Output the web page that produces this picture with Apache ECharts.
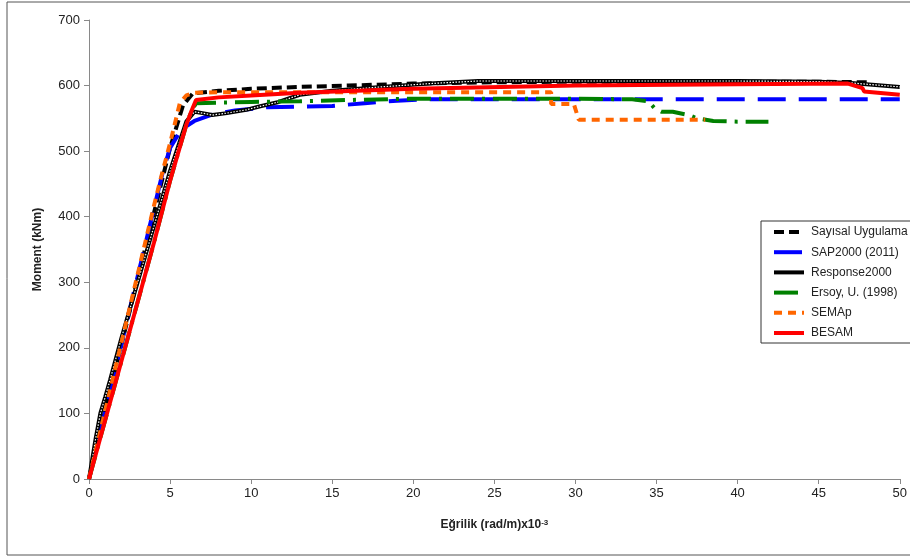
<!DOCTYPE html>
<html>
<head>
<meta charset="utf-8">
<script src="https://cdn.jsdelivr.net/npm/echarts@6/dist/echarts.min.js"></script>
<style>
  html, body { margin: 0; padding: 0; background: #fff; }
  #chart { width: 910px; height: 559px; }
</style>
</head>
<body>
<div id="chart"></div>
<script>
// values: curvature (x10^-3 rad/m) and moment (kNm)
const sayisalX = [0, 0.5, 1, 2, 3, 4, 5, 5.8, 6.4, 8, 10, 13, 16, 20, 25, 30, 35, 40, 45, 48];
const sayisalY = [0, 55, 105, 205, 305, 405, 505, 570, 588, 592, 595, 598, 600, 603, 605, 606, 606, 606, 606, 605];

const sapX = [0, 1, 2, 3, 4, 4.5, 5, 5.5, 6, 6.5, 7.5, 9, 11, 13, 15, 17, 19, 21, 30, 40, 50];
const sapY = [0, 103, 206, 309, 412, 463, 505, 525, 538, 546, 555, 562, 567, 568, 569, 573, 577, 579, 579, 579, 579];

const responseX = [0, 0.2, 0.4, 0.7, 1, 1.3, 2, 3, 4, 5, 6, 6.5, 7, 7.6, 8.5, 9.7, 10.5, 11.7, 13, 15, 18, 21, 24, 30, 35, 40, 45, 47, 50];
const responseY = [0, 30, 60, 100, 125, 151, 215, 300, 385, 470, 545, 560, 558, 555, 558, 563, 568, 575, 586, 592, 598, 603, 607, 607, 607, 607, 606, 604, 598];

const ersoyX = [0, 1, 2, 3, 4, 5, 6, 6.3, 6.6, 8, 10, 13, 16, 20, 25, 30, 33.5, 34.5, 34.9, 35.3, 36, 37, 37.5, 38.5, 40, 41.9];
const ersoyY = [0, 90, 180, 270, 360, 455, 540, 560, 573, 574, 575, 576, 578, 580, 580, 580, 579, 576, 565, 560, 560, 555, 550, 546, 545, 545];

const semapX = [0, 1, 2, 3, 4, 4.4, 5, 5.6, 6, 6.5, 8, 12, 16, 20, 25, 28.5, 28.5, 29.9, 30.2, 33, 37, 38];
const semapY = [0, 104, 208, 312, 416, 456, 512, 573, 585, 589, 590, 590, 590, 590, 590, 590, 572, 572, 548, 548, 548, 548];

const besamX = [0, 1, 2, 3, 4, 5, 6, 6.3, 6.6, 8, 10, 13, 20, 30, 40, 46.8, 47.7, 47.8, 50];
const besamY = [0, 90, 180, 270, 360, 455, 540, 560, 578, 582, 585, 589, 595, 600, 602, 603, 596, 591, 586];

const legendNames = ['Sayısal Uygulama', 'SAP2000 (2011)', 'Response2000', 'Ersoy, U. (1998)', 'SEMAp', 'BESAM'];

const pairs = (xs, ys) => xs.map((x, i) => [x, ys[i]]);

const lineSeries = (name, xs, ys, color, type, width) => ({
  name: name,
  type: 'line',
  data: pairs(xs, ys),
  symbol: 'none',
  smooth: false,
  animation: false,
  lineStyle: { color: color, width: width, type: type, cap: 'butt' },
  itemStyle: { color: color }
});

var myChart = echarts.init(document.getElementById('chart'));

const respDots = lineSeries('Response2000 doku', responseX, responseY, '#ffffff', [1.5, 1.5], 1.2);
respDots.silent = true;

myChart.setOption({
  textStyle: { fontFamily: 'Liberation Sans, Arial, sans-serif' },
  grid: { left: 89, right: 8, top: 20, bottom: 80 },
  graphic: [{
    type: 'rect',
    shape: { x: 7, y: 2, width: 910, height: 553 },
    style: { fill: 'none', stroke: '#555', lineWidth: 1 },
    silent: true
  }],
  legend: {
    data: legendNames,
    orient: 'vertical',
    left: 761,
    top: 221,
    padding: [5, 6, 4, 11],
    itemWidth: 30,
    itemHeight: 14,
    itemGap: 8.2,
    borderColor: '#333',
    borderWidth: 1,
    backgroundColor: '#fff',
    itemStyle: { opacity: 0 },
    lineStyle: { width: 4 },
    textStyle: { fontSize: 12, color: '#222', padding: [0, 0, 0, 2] }
  },
  xAxis: {
    type: 'value',
    min: 0,
    max: 50,
    interval: 5,
    name: 'Eğrilik (rad/m)x10{sup|-3}',
    nameLocation: 'middle',
    nameGap: 40,
    nameTextStyle: {
      fontSize: 12, fontWeight: 'bold', color: '#222',
      rich: { sup: { fontSize: 8, fontWeight: 'bold', color: '#222', verticalAlign: 'top', lineHeight: 8 } }
    },
    axisLine: { lineStyle: { color: '#898989', width: 1 } },
    axisTick: { show: true, length: 5, lineStyle: { color: '#898989' } },
    axisLabel: { fontSize: 13, color: '#222', margin: 8 },
    splitLine: { show: false }
  },
  yAxis: {
    type: 'value',
    min: 0,
    max: 700,
    interval: 100,
    name: 'Moment (kNm)',
    nameLocation: 'middle',
    nameGap: 45,
    nameTextStyle: { fontSize: 12, fontWeight: 'bold', color: '#222' },
    axisLine: { show: true, lineStyle: { color: '#898989', width: 1 } },
    axisTick: { show: true, length: 5, lineStyle: { color: '#898989' } },
    axisLabel: { fontSize: 13, color: '#222', margin: 9 },
    splitLine: { show: false }
  },
  series: [
    lineSeries('Sayısal Uygulama', sayisalX, sayisalY, '#000000', [10, 5], 4),
    lineSeries('SAP2000 (2011)', sapX, sapY, '#0000ff', [28, 13], 4),
    lineSeries('Response2000', responseX, responseY, '#000000', 'solid', 4),
    respDots,
    lineSeries('Ersoy, U. (1998)', ersoyX, ersoyY, '#008000', [24, 8, 3, 8], 4),
    lineSeries('SEMAp', semapX, semapY, '#ff6600', [8, 6], 4),
    lineSeries('BESAM', besamX, besamY, '#ff0000', 'solid', 4)
  ]
});
</script>
</body>
</html>
